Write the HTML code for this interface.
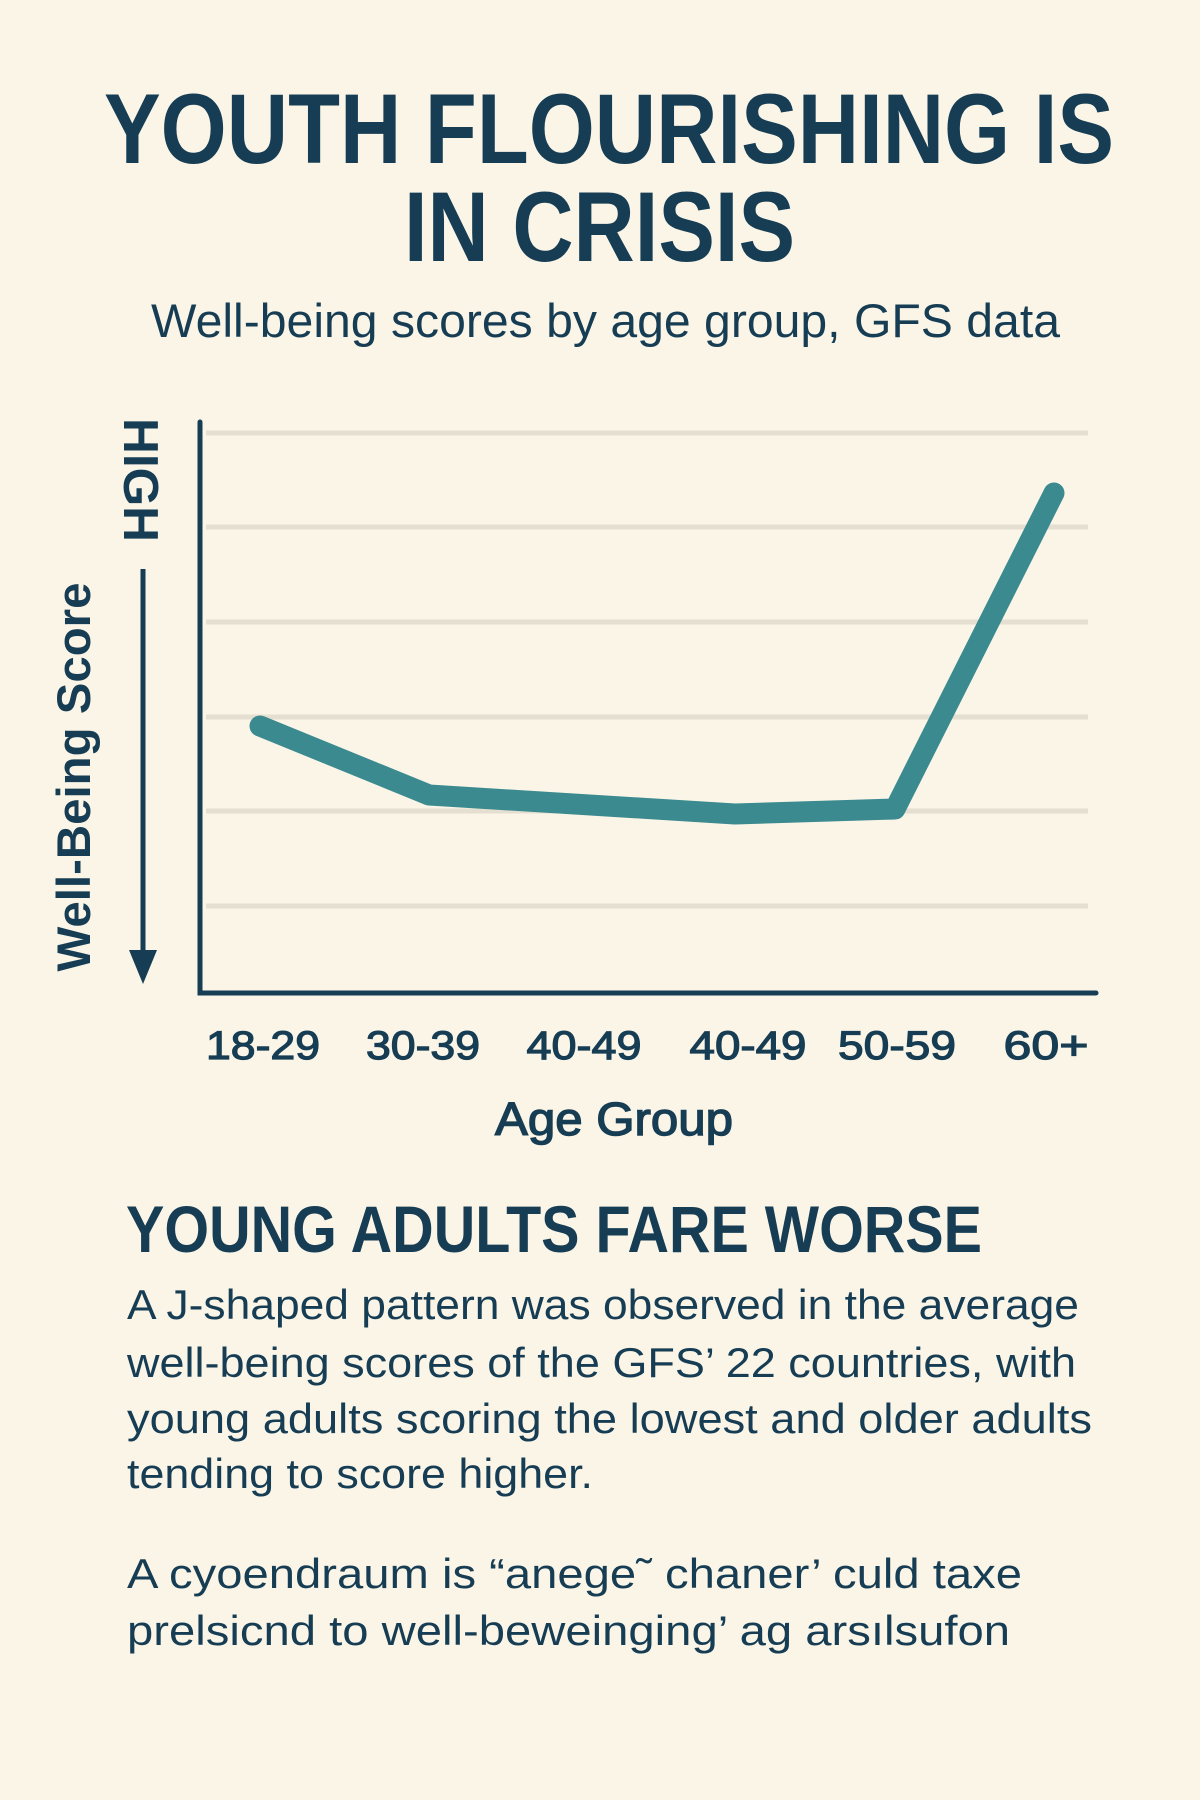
<!DOCTYPE html>
<html>
<head>
<meta charset="utf-8">
<style>
  html,body{margin:0;padding:0;background:#fbf5e8;}
  svg{display:block;}
  .t{font-family:"Liberation Sans",Arial,sans-serif;fill:#163d53;}
</style>
</head>
<body>
<svg width="1200" height="1800" viewBox="0 0 1200 1800" xmlns="http://www.w3.org/2000/svg">
  <rect x="0" y="0" width="1200" height="1800" fill="#fbf5e8"/>

  <!-- Title -->
  <text class="t" x="104" y="163" font-size="99" font-weight="700" textLength="1010" lengthAdjust="spacingAndGlyphs">YOUTH FLOURISHING IS</text>
  <text class="t" x="404" y="261" font-size="99" font-weight="700" textLength="391" lengthAdjust="spacingAndGlyphs">IN CRISIS</text>
  <text class="t" x="151" y="337" font-size="47" textLength="909" lengthAdjust="spacingAndGlyphs">Well-being scores by age group, GFS data</text>

  <!-- Gridlines -->
  <g stroke="#e5dfd1" stroke-width="5">
    <line x1="206" y1="433" x2="1088" y2="433"/>
    <line x1="206" y1="527" x2="1088" y2="527"/>
    <line x1="206" y1="622" x2="1088" y2="622"/>
    <line x1="206" y1="717" x2="1088" y2="717"/>
    <line x1="206" y1="811" x2="1088" y2="811"/>
    <line x1="206" y1="906" x2="1088" y2="906"/>
  </g>

  <!-- Axes -->
  <path d="M200 422 L200 993 L1096 993" fill="none" stroke="#163d53" stroke-width="5" stroke-linecap="round" stroke-linejoin="miter"/>

  <!-- Data line -->
  <polyline points="260,726 429,795 735,814 895,809 1054,493" fill="none" stroke="#3a8a8f" stroke-width="21" stroke-linecap="round" stroke-linejoin="round"/>

  <!-- Y axis label + arrow -->
  <text class="t" transform="translate(90,777) rotate(-90)" text-anchor="middle" font-size="47" font-weight="700" textLength="389" lengthAdjust="spacingAndGlyphs">Well-Being Score</text>
  <text class="t" transform="translate(124,480) rotate(90)" text-anchor="middle" font-size="49" font-weight="700" textLength="124" lengthAdjust="spacingAndGlyphs">HIGH</text>
  <line x1="143" y1="569" x2="143" y2="955" stroke="#163d53" stroke-width="5"/>
  <polygon points="129,950 157,950 143,984" fill="#163d53"/>

  <!-- X tick labels -->
  <g class="t" font-size="40" text-anchor="middle" stroke="#163d53" stroke-width="1.2">
    <text class="t" x="263" y="1059" textLength="114" lengthAdjust="spacingAndGlyphs">18-29</text>
    <text class="t" x="423" y="1059" textLength="114" lengthAdjust="spacingAndGlyphs">30-39</text>
    <text class="t" x="584" y="1059" textLength="115" lengthAdjust="spacingAndGlyphs">40-49</text>
    <text class="t" x="748" y="1059" textLength="117" lengthAdjust="spacingAndGlyphs">40-49</text>
    <text class="t" x="897" y="1059" textLength="118" lengthAdjust="spacingAndGlyphs">50-59</text>
    <text class="t" x="1046" y="1059" textLength="85" lengthAdjust="spacingAndGlyphs">60+</text>
  </g>
  <text class="t" x="614" y="1135" font-size="46" text-anchor="middle" stroke="#163d53" stroke-width="1.4" textLength="238" lengthAdjust="spacingAndGlyphs">Age Group</text>

  <!-- Section heading -->
  <text class="t" x="126" y="1252" font-size="66" font-weight="700" textLength="856" lengthAdjust="spacingAndGlyphs">YOUNG ADULTS FARE WORSE</text>

  <!-- Paragraph 1 -->
  <g font-size="42">
    <text class="t" x="127" y="1319" textLength="952" lengthAdjust="spacingAndGlyphs">A J-shaped pattern was observed in the average</text>
    <text class="t" x="127" y="1377" textLength="949" lengthAdjust="spacingAndGlyphs">well-being scores of the GFS’ 22 countries, with</text>
    <text class="t" x="127" y="1433" textLength="965" lengthAdjust="spacingAndGlyphs">young adults scoring the lowest and older adults</text>
    <text class="t" x="127" y="1488" textLength="466" lengthAdjust="spacingAndGlyphs">tending to score higher.</text>
  </g>

  <!-- Paragraph 2 -->
  <g font-size="42">
    <text class="t" x="127" y="1588" textLength="895" lengthAdjust="spacingAndGlyphs">A cyoendraum is “anege˜ chaner’ culd taxe</text>
    <text class="t" x="127" y="1645" textLength="883" lengthAdjust="spacingAndGlyphs">prelsicnd to well-beweinging’ ag arsılsufon</text>
  </g>
</svg>
</body>
</html>
